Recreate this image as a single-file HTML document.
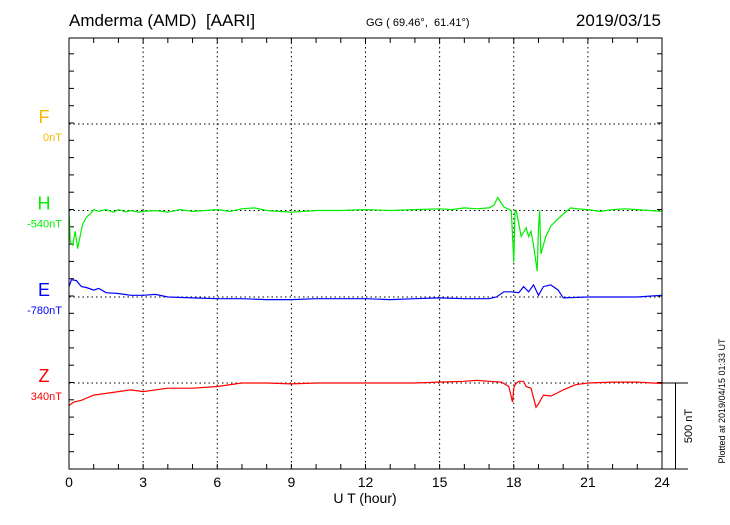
<!DOCTYPE html>
<html><head><meta charset="utf-8"><style>
body{margin:0;background:#fff;width:730px;height:520px;overflow:hidden}
svg text{font-family:"Liberation Sans",Arial,sans-serif}
</style></head><body>
<svg id="c" width="730" height="520" xmlns="http://www.w3.org/2000/svg">
<text x="69" y="26" font-size="17">Amderma (AMD)&#160; [AARI]</text>
<text x="366" y="26" font-size="11">GG ( 69.46°,&#160; 61.41°)</text>
<text x="661" y="26" font-size="17" text-anchor="end">2019/03/15</text>
<text x="365" y="503" font-size="14" text-anchor="middle">U T (hour)</text>
<g id="grid"></g>
<g id="series"></g>
<rect x="69" y="38" width="593" height="431" fill="none" stroke="#000" stroke-width="1"/>
<line x1="662" y1="383" x2="688" y2="383" stroke="#000"/>
<line x1="662" y1="469" x2="688" y2="469" stroke="#000"/>
<line x1="675.5" y1="383" x2="675.5" y2="469" stroke="#000"/>
<text transform="translate(692,426) rotate(-90)" font-size="11" text-anchor="middle">500 nT</text>
<text transform="translate(725,401) rotate(-90)" font-size="9" text-anchor="middle">Plotted at 2019/04/15 01:33 UT</text>
</svg>
<script>
const hours=[0,3,6,9,12,15,18,21,24];
const compNames=['F','H','E','Z'];
const compBaselines=['0nT','-540nT','-780nT','340nT'];
const compColors=['#f5b800','#00ee00','#0000ff','#ff0000'];
const hT=[0,0.05,0.15,0.25,0.35,0.45,0.55,0.7,0.85,1,1.2,1.5,1.8,2,2.3,2.5,2.8,3,3.5,4,4.5,5,5.5,6,6.5,7,7.5,8,8.5,9,10,11,12,13,14,15,15.5,16,16.5,17,17.2,17.35,17.6,17.9,18,18.05,18.1,18.3,18.5,18.6,18.7,18.8,18.95,19,19.05,19.1,19.3,19.5,19.7,20,20.3,20.6,21,21.5,22,22.5,23,23.5,24];
const hV=[0,-180,-200,-120,-220,-150,-80,-40,-20,5,-5,5,-10,5,-8,0,-10,-5,0,-10,5,-5,0,5,-5,10,15,0,-5,-10,0,0,5,0,5,10,5,15,10,15,30,75,20,0,-300,-10,0,-150,-100,-150,-120,-200,-350,-100,0,-250,-150,-90,-60,-20,15,10,5,-5,5,10,5,0,-5];
const eT=[0,0.1,0.3,0.5,0.7,1,1.2,1.5,2,2.5,3,3.5,4,5,6,7,8,9,10,11,12,13,14,15,16,17,17.3,17.6,17.9,18.2,18.4,18.6,18.8,19,19.2,19.5,19.8,20,21,22,23,23.5,24];
const eV=[60,100,95,60,55,40,50,25,20,10,10,15,0,-5,-10,-10,-15,-15,-10,-10,-10,-15,-10,-5,-10,-10,0,30,30,25,60,30,70,10,60,70,40,-5,0,0,0,5,10];
const zT=[0,0.2,0.5,1,1.5,2,2.5,3,4,5,6,7,8,9,10,11,12,13,14,15,16,16.5,17,17.5,17.8,17.95,18,18.05,18.2,18.4,18.5,18.7,18.9,19,19.2,19.5,19.8,20,20.5,21,22,23,24];
const zV=[-130,-110,-100,-70,-60,-50,-40,-50,-30,-30,-20,0,0,-5,0,0,0,0,0,5,10,15,10,5,-20,-110,-30,-10,10,10,-20,-30,-140,-120,-70,-75,-55,-40,-10,0,5,5,-3];
const svg=document.getElementById('c'),ns='http://www.w3.org/2000/svg';
const X0=69,X1=662,Y0=38,Y1=469;
const xs=h=>X0+(X1-X0)*h/24;
const K=86.5/500;
const bases=[124,210.5,297,383];
function mk(t,a,p){const e=document.createElementNS(ns,t);for(const k in a)e.setAttribute(k,a[k]);p.appendChild(e);return e;}
const grid=document.getElementById('grid');
hours.forEach((h,i)=>{
 if(h>0&&h<24){const l=mk('line',{x1:xs(h),y1:Y0,x2:xs(h),y2:Y1,stroke:'#000','stroke-dasharray':'1.5,3','stroke-width':1},grid);
 
 }
 const t=mk('text',{x:xs(h),y:487,'font-size':14,'text-anchor':'middle'},grid);t.textContent=h;
 
 
});
for(let h=1;h<24;h++){mk('line',{x1:xs(h),y1:Y0,x2:xs(h),y2:Y0+5,stroke:'#000'},grid);mk('line',{x1:xs(h),y1:Y1,x2:xs(h),y2:Y1-5,stroke:'#000'},grid);}
for(let y=Y1;y>Y0;y-=17.3){mk('line',{x1:X0,y1:y,x2:X0+5,y2:y,stroke:'#000'},grid);mk('line',{x1:X1,y1:y,x2:X1-5,y2:y,stroke:'#000'},grid);}
bases.forEach((b,i)=>{
 const l=mk('line',{x1:X0,y1:b,x2:X1,y2:b,stroke:'#000','stroke-dasharray':'1.5,3'},grid);
 
 
 const t=mk('text',{x:44,y:b-1,'font-size':18,'text-anchor':'middle',fill:compColors[i]},grid);t.textContent=compNames[i];
 
 
 const s=mk('text',{x:62,y:b+17,'font-size':11,'text-anchor':'end',fill:compColors[i]},grid);s.textContent=compBaselines[i];
 
 
});
const ser=document.getElementById('series');
[[hT,hV,1,'h-series'],[eT,eV,2,'e-series'],[zT,zV,3,'z-series']].forEach(([T,V,i,n])=>{
 const d=T.map((t,j)=>(j?'L':'M')+xs(t).toFixed(1)+','+(bases[i]-V[j]*K).toFixed(1)).join('');
 const p=mk('path',{d:d,fill:'none',stroke:compColors[i],'stroke-width':1.2},ser);
 
 
});
</script>
</body></html>
